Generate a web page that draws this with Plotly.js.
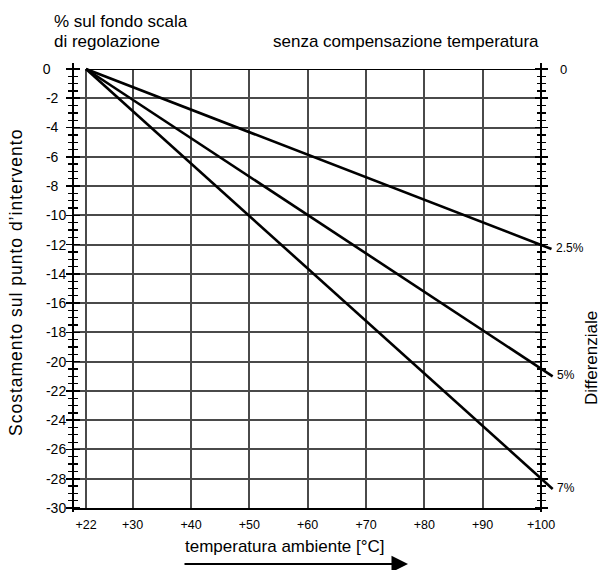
<!DOCTYPE html>
<html>
<head>
<meta charset="utf-8">
<script src="https://cdn.plot.ly/plotly-3.0.1.min.js"></script>
<style>
  html, body { margin: 0; padding: 0; background: #fff; }
  #chart { width: 600px; height: 570px; }
</style>
</head>
<body>
<div id="chart"></div>
<script>
// Ambient temperature axis (°C)
const tempTicks = [22, 30, 40, 50, 60, 70, 80, 90, 100];
const tempLabels = ['+22', '+30', '+40', '+50', '+60', '+70', '+80', '+90', '+100'];

// Set-point deviation axis (% of adjustment full scale)
const devTicks = [0, -2, -4, -6, -8, -10, -12, -14, -16, -18, -20, -22, -24, -26, -28, -30];
const devLabels = ['0', '-2', '-4', '-6', '-8', '-10', '-12', '-14', '-16', '-18', '-20', '-22', '-24', '-26', '-28', '-30'];

// Differential curves (temperature, deviation)
const diffNames = ['2.5%', '5%', '7%'];
const temp25 = [22, 100, 101.8];
const dev25 = [0, -12, -12.3];
const temp5 = [22, 100, 102];
const dev5 = [0, -20.5, -21.0];
const temp7 = [22, 100, 102];
const dev7 = [0, -28, -28.7];

// Page geometry (pixels)
const W = 600, H = 570;
const M = { l: 74, r: 40, t: 63, b: 58 };
const plotW = W - M.l - M.r, plotH = H - M.t - M.b;
const fx = px => (px - M.l) / plotW;          // pixel -> paper x
const fy = py => (H - M.b - py) / plotH;      // pixel -> paper y

// Frame placement: where 22 °C, 100 °C, 0 % and -30 % sit
const PX_T22 = 86, PX_T100 = 541, PY_D0 = 69, PY_D30 = 508;
const pxPerDeg = (PX_T100 - PX_T22) / (100 - 22);
const pxPerPct = (PY_D30 - PY_D0) / 30;
const tMin = 22 - (PX_T22 - M.l) / pxPerDeg;
const tMaxWide = tMin + plotW / pxPerDeg;
const dTopWide = (PY_D0 - M.t) / pxPerPct;
const dBotWide = -30 - (H - M.b - PY_D30) / pxPerPct;

const FONT = 'Liberation Sans, Arial, Helvetica, sans-serif';
const INK = '#000';
const GRID = '#4a4a4a';
const Y_TITLE = 'Scostamento sul punto d\u2019intervento';

// left-aligned look for the deviation labels: pad short ones with figure spaces
const maxLen = Math.max(...devLabels.map(s => s.length));
const devText = devLabels.map(s => s + '\u2007'.repeat(maxLen - s.length));

const curves = [
  { x: temp25, y: dev25, name: diffNames[0] },
  { x: temp5, y: dev5, name: diffNames[1] },
  { x: temp7, y: dev7, name: diffNames[2] }
];

const traces = curves.map(c => ({
  type: 'scatter', mode: 'lines', x: c.x, y: c.y, name: c.name,
  xaxis: 'x2', yaxis: 'y2',
  line: { color: INK, width: 2.6 },
  hoverinfo: 'skip', showlegend: false
}));
// keep every axis pair registered
['y', 'y3', 'y4', 'y5'].forEach(ya => traces.push({
  type: 'scatter', mode: 'lines', x: [], y: [],
  xaxis: ya === 'y' ? 'x' : 'x2', yaxis: ya,
  hoverinfo: 'skip', showlegend: false
}));

const tickAxis = (side, ticks) => ({
  range: [dBotWide, dTopWide], fixedrange: true,
  tickmode: 'array', tickvals: devTicks,
  ticks: ticks, ticklen: 6, tickwidth: 1.6, tickcolor: INK,
  minor: { dtick: 0.5, tick0: 0, ticks: ticks, ticklen: 4, tickwidth: 1.3, tickcolor: INK, showgrid: false },
  showgrid: false, zeroline: false, side: side
});

const layout = {
  width: W, height: H,
  margin: M,
  paper_bgcolor: '#fff', plot_bgcolor: 'rgba(0,0,0,0)',
  showlegend: false,
  font: { family: FONT, color: INK, size: 12 },
  xaxis: {
    domain: [0, fx(PX_T100)], range: [tMin, 100], anchor: 'y',
    tickmode: 'array', tickvals: tempTicks, ticktext: tempLabels,
    ticks: 'outside', ticklen: 4, tickcolor: 'rgba(0,0,0,0)',
    tickfont: { family: FONT, size: 12.5, color: INK },
    showgrid: true, gridcolor: GRID, gridwidth: 2,
    showline: true, linecolor: INK, linewidth: 2, zeroline: false
  },
  yaxis: {
    domain: [fy(PY_D30), fy(PY_D0)], range: [-30, 0], anchor: 'x',
    tickmode: 'array', tickvals: devTicks.filter(v => v !== 0),
    showticklabels: false, ticks: '',
    showgrid: true, gridcolor: GRID, gridwidth: 2,
    showline: false, zeroline: false
  },
  xaxis2: {
    domain: [0, 1], range: [tMin, tMaxWide], anchor: 'y2', visible: false
  },
  yaxis2: Object.assign(tickAxis('left', 'outside'), {
    domain: [0, 1], anchor: 'x2',
    ticktext: devText, showticklabels: true, ticklabelstandoff: -3,
    tickfont: { family: FONT, size: 14, color: INK },
    showline: true, linecolor: INK, linewidth: 2
  }),
  yaxis3: Object.assign(tickAxis('left', 'inside'), {
    overlaying: 'y2', anchor: 'x2', showticklabels: false, showline: false
  }),
  yaxis4: Object.assign(tickAxis('right', 'outside'), {
    overlaying: 'y2', anchor: 'free', position: fx(PX_T100),
    showticklabels: false, showline: true, linecolor: INK, linewidth: 2
  }),
  yaxis5: Object.assign(tickAxis('right', 'inside'), {
    overlaying: 'y2', anchor: 'free', position: fx(PX_T100),
    showticklabels: false, showline: false
  }),
  shapes: [
    // upper edge of the grid, from the 22 °C line to the right scale
    { type: 'line', xref: 'x', yref: 'y', x0: 22, x1: 100, y0: 0, y1: 0,
      line: { color: INK, width: 2 } }
  ],
  annotations: [
    { text: '% sul fondo scala', xref: 'paper', yref: 'paper', x: fx(52), y: fy(21),
      xanchor: 'left', yanchor: 'middle', showarrow: false, font: { size: 17 } },
    { text: 'di regolazione', xref: 'paper', yref: 'paper', x: fx(52), y: fy(42),
      xanchor: 'left', yanchor: 'middle', showarrow: false, font: { size: 17 } },
    { text: 'senza compensazione temperatura', xref: 'paper', yref: 'paper', x: fx(271), y: fy(42),
      xanchor: 'left', yanchor: 'middle', showarrow: false, font: { size: 17 } },
    { text: Y_TITLE, xref: 'paper', yref: 'paper', x: fx(16), y: fy(283),
      xanchor: 'center', yanchor: 'middle', textangle: -90, showarrow: false, font: { size: 17.5 } },
    { text: 'Differenziale', xref: 'paper', yref: 'paper', x: fx(591), y: fy(358),
      xanchor: 'center', yanchor: 'middle', textangle: -90, showarrow: false, font: { size: 17 } },
    { text: 'temperatura ambiente [°C]', xref: 'paper', yref: 'paper', x: fx(183), y: fy(546),
      xanchor: 'left', yanchor: 'middle', showarrow: false, font: { size: 17 } },
    // direction arrow under the temperature title
    { text: '', xref: 'paper', yref: 'paper', x: fx(408), y: fy(564),
      ax: 183 - 408, ay: 0, axref: 'pixel', ayref: 'pixel',
      showarrow: true, arrowhead: 2, arrowsize: 1.5, arrowwidth: 2.2, arrowcolor: INK, standoff: 0 },
    // right-hand scale: zero and differential labels at the curve ends
    { text: '0', xref: 'x2', yref: 'y2', x: 100, y: 0, xanchor: 'left', yanchor: 'middle',
      xshift: 17, showarrow: false, font: { size: 13 } }
  ].concat(curves.map(c => ({
    text: c.name, xref: 'x2', yref: 'y2',
    x: c.x[c.x.length - 1], y: c.y[c.y.length - 1],
    xanchor: 'left', yanchor: 'middle', xshift: 2, yshift: 1,
    showarrow: false, font: { size: 12 }
  })))
};

Plotly.newPlot('chart', traces, layout, { staticPlot: true, displayModeBar: false }).then(gd => {
  // the vertical deviation title is set with slightly open tracking
  gd.querySelectorAll('text').forEach(t => {
    if (t.textContent === Y_TITLE) {
      t.style.letterSpacing = '1px';
    }
  });
});
</script>
</body>
</html>
